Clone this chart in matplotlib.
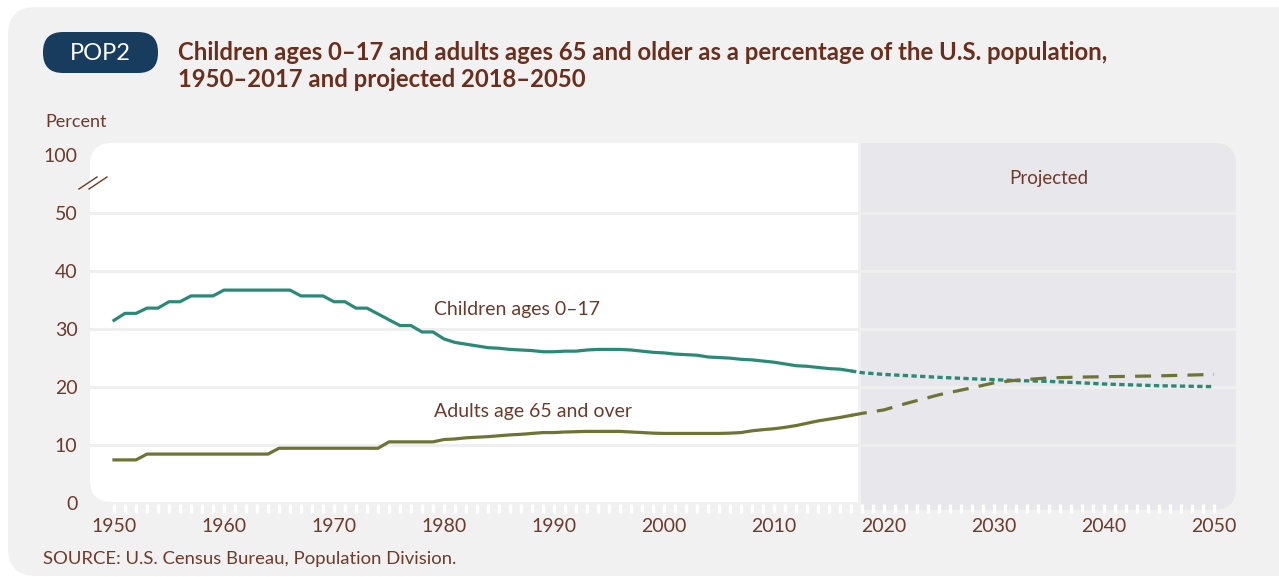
import numpy as np
import matplotlib
matplotlib.use("Agg")
import matplotlib.pyplot as plt
import matplotlib.patches as mpatches
from matplotlib.lines import Line2D

plt.rcParams['font.family'] = ['Lato', 'DejaVu Sans']

# ---- data (percent of U.S. population) ----
hist_years = list(range(1950, 2018))
children_hist = [31.5, 32.7, 32.7, 33.6, 33.6, 34.7, 34.7, 35.7, 35.7, 35.7,
                 36.7, 36.7, 36.7, 36.7, 36.7, 36.7, 36.7, 35.7, 35.7, 35.7,
                 34.7, 34.7, 33.6, 33.6, 32.6, 31.6, 30.6, 30.6, 29.5, 29.5,
                 28.3, 27.7, 27.4, 27.1, 26.8, 26.7, 26.5, 26.4, 26.3, 26.1,
                 26.1, 26.2, 26.2, 26.4, 26.5, 26.5, 26.5, 26.4, 26.2, 26.0,
                 25.9, 25.7, 25.6, 25.5, 25.2, 25.1, 25.0, 24.8, 24.7, 24.5,
                 24.3, 24.0, 23.7, 23.6, 23.4, 23.2, 23.1, 22.8]
adults_hist = [7.5, 7.5, 7.5, 8.5, 8.5, 8.5, 8.5, 8.5, 8.5, 8.5,
               8.5, 8.5, 8.5, 8.5, 8.5, 9.5, 9.5, 9.5, 9.5, 9.5,
               9.5, 9.5, 9.5, 9.5, 9.5, 10.6, 10.6, 10.6, 10.6, 10.6,
               11.0, 11.1, 11.3, 11.4, 11.5, 11.65, 11.8, 11.9, 12.05, 12.2,
               12.2, 12.3, 12.35, 12.4, 12.4, 12.4, 12.4, 12.3, 12.2, 12.1,
               12.05, 12.05, 12.05, 12.05, 12.05, 12.05, 12.1, 12.2, 12.5, 12.7,
               12.85, 13.1, 13.4, 13.8, 14.2, 14.5, 14.8, 15.15]

proj_years = [2018, 2020, 2022, 2025, 2028, 2030, 2032, 2035, 2038, 2040, 2045, 2050]
children_proj = [22.5, 22.2, 22.0, 21.7, 21.45, 21.3, 21.15, 21.0, 20.75, 20.55, 20.25, 20.1]
adults_proj = [15.5, 16.1, 17.2, 18.7, 19.9, 20.75, 21.2, 21.6, 21.75, 21.8, 21.95, 22.2]

ytick_vals = [0, 10, 20, 30, 40, 50, 60]
ytick_labels = ['0', '10', '20', '30', '40', '50', '100']
xtick_vals = list(range(1950, 2051, 10))

# ---- style ----
BROWN = '#6e3a2a'
TITLE_BROWN = '#6b2e1c'
TEAL = '#2a8a78'
OLIVE = '#6e7434'
CARD = '#f0f1f0'
PROJ = '#e8e7ec'
GRID = '#eeefee'
NAVY = '#173c5e'

W, H = 1279, 577
fig = plt.figure(figsize=(W / 100, H / 100), dpi=100)
fig.patch.set_facecolor('white')


def fx(x):
    return x / W


def fy(y):
    return 1 - y / H


def rbox(x0, y0, x1, y1, r, color, z, clip=None):
    p = mpatches.FancyBboxPatch((fx(x0), fy(y1)), fx(x1) - fx(x0), fy(y0) - fy(y1),
                                boxstyle=f"round,pad=0,rounding_size={r / W}",
                                mutation_aspect=W / H, transform=fig.transFigure,
                                facecolor=color, edgecolor='none', zorder=z)
    fig.add_artist(p)
    if clip is not None:
        cx0, cx1 = clip
        cr = mpatches.Rectangle((fx(cx0), 0), fx(cx1) - fx(cx0), 1, transform=fig.transFigure)
        p.set_clip_path(cr)
    return p


# card, plot area, projected area
rbox(8, 7, 1310, 576, 28, CARD, -5)
rbox(90, 143, 950, 502, 22, 'white', -4, clip=(0, 858))
rbox(780, 143, 1236, 510, 22, PROJ, -4, clip=(861, W))

# axes
ax_left, ax_right = 90, 1236
ax_top, ax_bot = 143, 503.5
ax = fig.add_axes([fx(ax_left), fy(ax_bot), fx(ax_right) - fx(ax_left), (ax_bot - ax_top) / H])
ax.patch.set_visible(False)
for s in ax.spines.values():
    s.set_visible(False)
ax.set_xlim(1947.82, 2052.0)
ax.set_ylim(0, 62)

ax.set_yticks(ytick_vals)
ax.set_yticklabels(ytick_labels)
ax.tick_params(axis='y', length=0, pad=9, labelsize=14, labelcolor=BROWN)
for y in ytick_vals[1:-1]:
    ax.axhline(y, color=GRID, lw=2.2, zorder=1)

ax.set_xticks(xtick_vals)
ax.set_xticks(range(1950, 2051), minor=True)
ax.tick_params(axis='x', which='both', direction='out', length=6.5, width=2.4,
               color='white', pad=4, labelsize=14, labelcolor=BROWN)

# lines
ax.plot(hist_years, children_hist, color=TEAL, lw=2.3, zorder=3, solid_joinstyle='round')
ax.plot(hist_years, adults_hist, color=OLIVE, lw=2.3, zorder=3, solid_joinstyle='round')
ax.plot([hist_years[-1]] + proj_years, [children_hist[-1]] + children_proj,
        color=TEAL, lw=2.4, dashes=(1.6, 1.0), zorder=3)
ax.plot([hist_years[-1]] + proj_years, [adults_hist[-1]] + adults_proj,
        color=OLIVE, lw=2.3, dashes=(5.0, 3.2), zorder=3)

# labels on chart
ax.text(1979.1, 33.4, 'Children ages 0\u201317', color=BROWN, fontsize=14, va='center', ha='left')
ax.text(1979.1, 15.9, 'Adults age 65 and over', color=BROWN, fontsize=14, va='center', ha='left')
fig.text(fx(1049), fy(178), 'Projected', color=BROWN, fontsize=13.5, ha='center', va='center')

# axis break marks
for dx in (0, 10):
    fig.add_artist(Line2D([fx(79 + dx), fx(97 + dx)], [fy(189), fy(177)],
                          color=BROWN, lw=1.0, transform=fig.transFigure))

# header
rbox(43, 32, 158, 73, 20, NAVY, 2)
fig.text(fx(100.5), fy(53), 'POP2', color='white', fontsize=17, ha='center', va='center', zorder=3)
fig.text(fx(178), fy(52), 'Children ages 0\u201317 and adults ages 65 and older as a percentage of the U.S. population,',
         color=TITLE_BROWN, fontsize=17.2, fontweight='bold', ha='left', va='center')
fig.text(fx(178), fy(80), '1950\u20132017 and projected 2018\u20132050',
         color=TITLE_BROWN, fontsize=17.2, fontweight='bold', ha='left', va='center')
fig.text(fx(45), fy(122), 'Percent', color=BROWN, fontsize=13, ha='left', va='center')
fig.text(fx(43), fy(559), 'SOURCE: U.S. Census Bureau, Population Division.',
         color=BROWN, fontsize=13.3, ha='left', va='center')

fig.savefig('out.png', dpi=100, facecolor=fig.get_facecolor())
